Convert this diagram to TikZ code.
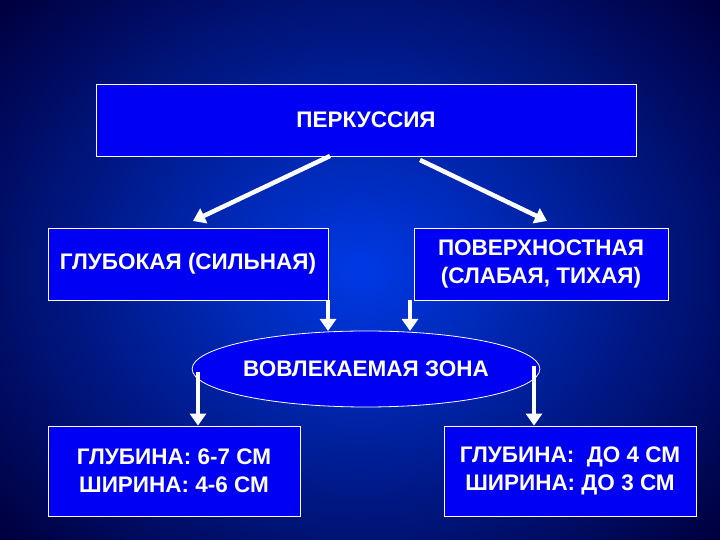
\documentclass[tikz,border=0pt]{standalone}
\usepackage{fontspec}
\setmainfont{Liberation Sans}
\usetikzlibrary{shapes.geometric,arrows.meta}
\begin{document}
\begin{tikzpicture}[x=1pt,y=1pt,
  box/.style={draw=white,line width=0.8pt,fill=blue!95!black,text=white,font=\bfseries\fontsize{22.5}{28}\selectfont,align=center,inner sep=0pt},
  arr/.style={draw=white,line width=4.5pt,-{Triangle[width=16pt,length=12pt]}}]
\useasboundingbox (0,0) rectangle (720,540);
\shade[inner color=blue!75!cyan!90!black,outer color=blue!25!black] (-120,-120) rectangle (840,660);
\node[box,minimum width=540,minimum height=72] (top) at (366,420) {ПЕРКУССИЯ};
\node[box,minimum width=280,minimum height=72] (l) at (188,276) {ГЛУБОКАЯ (СИЛЬНАЯ)};
\node[box,minimum width=254,minimum height=72] (r) at (541,276) {ПОВЕРХНОСТНАЯ\\(СЛАБАЯ, ТИХАЯ)};
\node[box,ellipse,minimum width=336,minimum height=76] (z) at (366,171) {ВОВЛЕКАЕМАЯ ЗОНА};
\node[box,minimum width=252,minimum height=90] (bl) at (174,69) {ГЛУБИНА: 6-7 СМ\\ШИРИНА: 4-6 СМ};
\node[box,minimum width=252,minimum height=90] (br) at (570,69) {ГЛУБИНА:\ \ ДО 4 СМ\\ШИРИНА: ДО 3 СМ};
\coordinate (a1) at (330,384); \coordinate (a2) at (193,319);
\coordinate (b1) at (420,380); \coordinate (b2) at (547,319);
\coordinate (c1) at (198,168); \coordinate (d1) at (534,174);
\draw[arr] (a1) -- (a2);
\draw[arr] (b1) -- (b2);
\draw[arr] (l.south -| 328,0) -- (328,209);
\draw[arr] (r.south -| 410,0) -- (410,209);
\draw[arr] (c1) -- (c1 |- bl.north);
\draw[arr] (d1) -- (d1 |- br.north);
\end{tikzpicture}
\end{document}
